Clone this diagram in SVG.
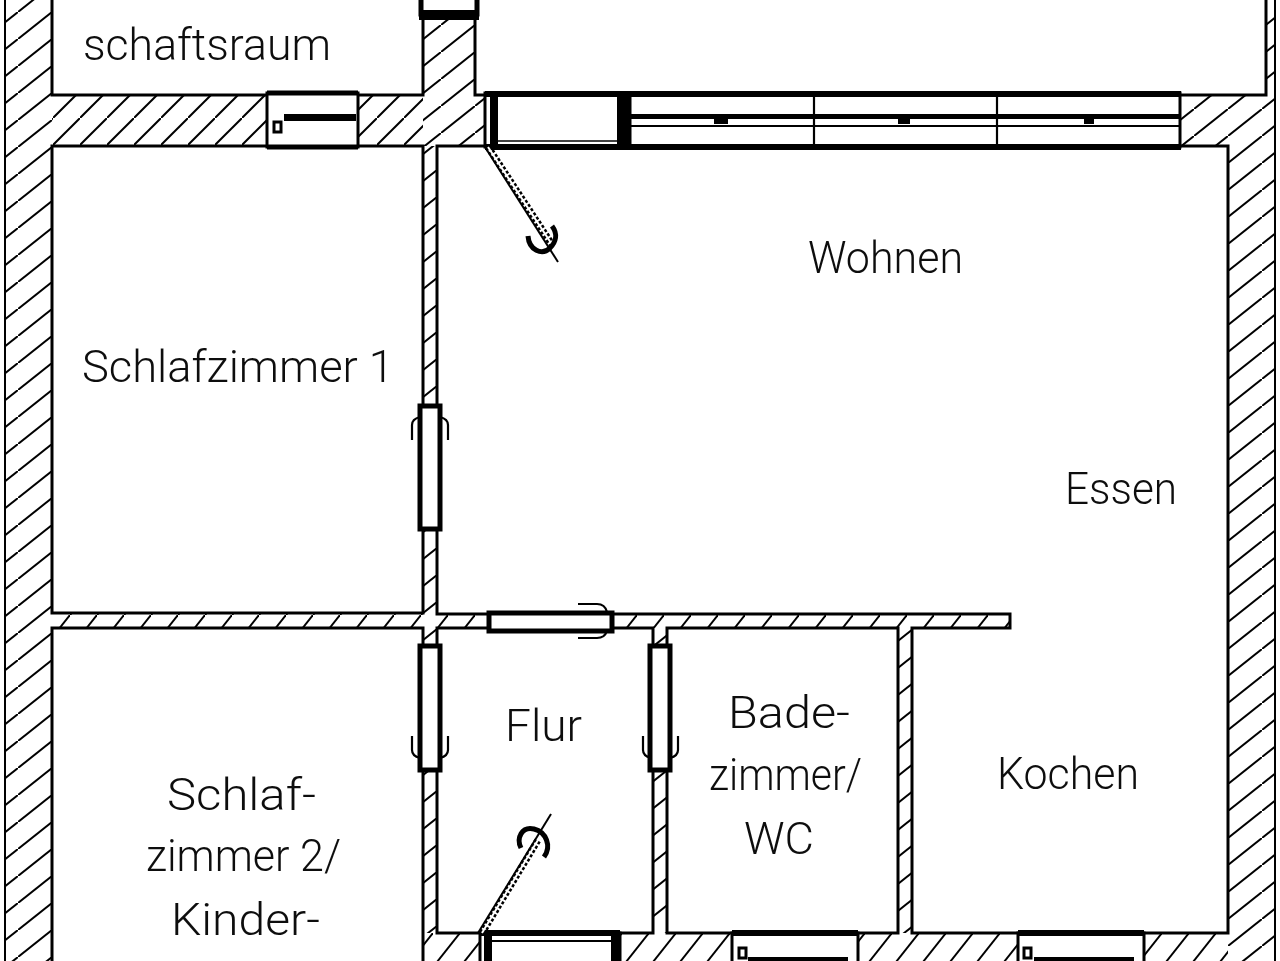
<svg xmlns="http://www.w3.org/2000/svg" width="1280" height="961" viewBox="0 0 1280 961">
<style>
.r{fill:#fff;stroke:#000;stroke-width:3}
.w{fill:#fff;stroke:#000;stroke-width:3}
.d{fill:#fff;stroke:#000;stroke-width:5}
.t{fill:none;stroke:#000;stroke-width:6}
.thin{fill:none;stroke:#000;stroke-width:2.2}
.k{fill:#000}
.hl{fill:none;stroke:#000;stroke-width:2}
.lab{font-family:"Roboto","Liberation Sans",Arial,sans-serif;font-weight:300;font-size:44px;fill:#111}
</style>
<defs>
<pattern id="hL" patternUnits="userSpaceOnUse" width="34" height="27" patternTransform="translate(18 12)"><path d="M-4 30.2L38 -3.2" class="hl"/></pattern>
<pattern id="hR" patternUnits="userSpaceOnUse" width="34" height="27" patternTransform="translate(1228 1)"><path d="M-4 30.2L38 -3.2" class="hl"/></pattern>
<pattern id="hU" patternUnits="userSpaceOnUse" width="34" height="27" patternTransform="translate(441 25)"><path d="M-4 30.2L38 -3.2" class="hl"/></pattern>
<pattern id="hV" patternUnits="userSpaceOnUse" width="34" height="27" patternTransform="translate(403 170)"><path d="M-4 30.2L38 -3.2" class="hl"/></pattern>
<pattern id="hT" patternUnits="userSpaceOnUse" width="27" height="27" patternTransform="translate(377 118)"><path d="M-3 30L30 -3" class="hl"/></pattern>
<pattern id="hM" patternUnits="userSpaceOnUse" width="27" height="34" patternTransform="translate(43 615)"><path d="M-3 37.8L30 -3.8" class="hl"/></pattern>
<pattern id="hB" patternUnits="userSpaceOnUse" width="27" height="34" patternTransform="translate(1135 933)"><path d="M-3 37.8L30 -3.8" class="hl"/></pattern>
<filter id="soft" x="0" y="0" width="100%" height="100%"><feGaussianBlur stdDeviation="0.4"/></filter>
</defs>
<rect width="1280" height="961" fill="#fff"/>
<g filter="url(#soft)">
<g id="walls">
<rect x="4" y="-5" width="48" height="975" fill="url(#hL)"/>
<rect x="1180" y="95" width="96" height="51" fill="url(#hR)"/>
<rect x="1228" y="146" width="48" height="820" fill="url(#hR)"/>
<rect x="1266" y="-5" width="10" height="100" fill="url(#hR)"/>
<rect x="423" y="-5" width="62" height="151" fill="url(#hU)"/>
<rect x="52" y="95" width="371" height="51" fill="url(#hT)"/>
<rect x="423" y="146" width="14" height="787" fill="url(#hV)"/>
<rect x="653" y="628" width="14" height="305" fill="url(#hV)"/>
<rect x="898" y="628" width="14" height="305" fill="url(#hV)"/>
<rect x="52" y="613" width="958" height="15" fill="url(#hM)"/>
<rect x="423" y="933" width="805" height="30" fill="url(#hB)"/>
<path d="M4 -5V970M1276 -5V970" fill="none" stroke="#000" stroke-width="4"/>
</g>
<g id="rooms">
<rect id="room-wirtschaft" class="r" x="52" y="-8" width="371" height="103"/>
<rect id="room-top" class="r" x="475" y="-8" width="791" height="103"/>
<rect id="room-schlaf1" class="r" x="52" y="146" width="371" height="467"/>
<rect id="room-schlaf2" class="r" x="52" y="628" width="371" height="345"/>
<path id="room-wohnen" class="r" d="M437 146H1228V933H912V628H1010V614H437Z"/>
<rect id="room-flur" class="r" x="437" y="628" width="216" height="305"/>
<rect id="room-bad" class="r" x="667" y="628" width="231" height="305"/>
</g>
<g id="windows">
<g id="win-top-left"><rect class="w" x="267" y="93" width="91" height="54"/><path d="M267 93H358M267 147H358" class="t" style="stroke-width:5"/><rect class="k" x="284" y="114" width="72" height="7"/><rect class="thin" x="274" y="122" width="7" height="10" style="stroke-width:3"/></g>
<g id="door-top"><rect class="d" x="421" y="-6" width="56" height="20"/><rect class="k" x="419" y="10" width="60" height="10"/></g>
<g id="door-balcony"><rect class="w" x="485" y="93" width="135" height="54"/><path d="M485 94H630M485 147H630" class="t"/><rect class="k" x="490" y="93" width="8" height="54"/><path d="M497 141H618" stroke="#000" stroke-width="1.5"/><rect class="k" x="617" y="92" width="15" height="57"/></g>
<g id="window-row"><rect class="w" x="630" y="93" width="550" height="54"/><path d="M628 94H1181M628 147H1181" class="t"/><path d="M630 116.500H1180" stroke="#000" stroke-width="5"/><path d="M630 126H1180" class="thin"/><path d="M814 93V147M997 93V147" class="thin"/><rect class="k" x="714" y="116" width="14" height="8"/><rect class="k" x="898" y="116" width="12" height="8"/><rect class="k" x="1084" y="116" width="10" height="8"/></g>
<g id="door-schlaf1"><rect class="d" x="420" y="406" width="20" height="123"/><path d="M412 440V425C412 420 416 418 420 417M448 440V425C448 420 444 418 440 417" class="thin"/></g>
<g id="door-wohnen-flur"><rect class="d" x="489" y="613" width="123" height="18"/><path d="M578 604H597C604 604 606 608 607 612M578 638H597C604 638 606 634 607 631" class="thin"/></g>
<g id="door-schlaf2"><rect class="d" x="420" y="646" width="20" height="124"/><path d="M412 736V750C412 755 416 757 420 758M448 736V750C448 755 444 757 440 758" class="thin"/></g>
<g id="door-bad"><rect class="d" x="650" y="646" width="20" height="124"/><path d="M643 736V750C643 755 647 757 651 758M678 736V750C678 755 674 757 670 758" class="thin"/></g>
<g id="door-bottom"><rect class="w" x="480" y="933" width="140" height="40"/><path d="M480 933H620" class="t"/><rect class="k" x="484" y="933" width="8" height="30"/><rect class="k" x="611" y="931" width="9" height="32"/><path d="M490 941H612" class="thin"/></g>
<g id="win-bad"><rect class="w" x="732" y="933" width="126" height="40"/><path d="M732 933H858" class="t"/><rect class="thin" x="739" y="948" width="7" height="10" style="stroke-width:3"/><rect class="k" x="748" y="957" width="100" height="6"/></g>
<g id="win-kochen"><rect class="w" x="1018" y="933" width="126" height="40"/><path d="M1018 933H1144" class="t"/><rect class="thin" x="1024" y="948" width="7" height="10" style="stroke-width:3"/><rect class="k" x="1034" y="957" width="100" height="6"/></g>
</g>
<g id="handles">
<path d="M485 147L558 262" stroke="#000" stroke-width="2" fill="none"/>
<path d="M488 147L553 246" stroke="#000" stroke-width="7" stroke-dasharray="3 2" fill="none"/>
<path d="M488 147L553 246" stroke="#fff" stroke-width="2" fill="none"/>
<path d="M528 236C529 250 542 256 550 248C556 242 558 234 552 226" fill="none" stroke="#000" stroke-width="5"/>
<path d="M478 933L551 814" stroke="#000" stroke-width="2" fill="none"/>
<path d="M482 933L538 840" stroke="#000" stroke-width="7" stroke-dasharray="3 2" fill="none"/>
<path d="M482 933L538 840" stroke="#fff" stroke-width="2" fill="none"/>
<path d="M521 848C516 838 522 826 534 829C546 832 552 846 544 857" fill="none" stroke="#000" stroke-width="5"/>
</g>
<g id="labels">
<text class="lab" x="83" y="60" textLength="248" lengthAdjust="spacingAndGlyphs">schaftsraum</text>
<text class="lab" x="808" y="273" textLength="155" lengthAdjust="spacingAndGlyphs">Wohnen</text>
<text class="lab" x="82" y="382" textLength="312" lengthAdjust="spacingAndGlyphs">Schlafzimmer 1</text>
<text class="lab" x="1065" y="504" textLength="112" lengthAdjust="spacingAndGlyphs">Essen</text>
<text class="lab" x="505" y="741" textLength="77" lengthAdjust="spacingAndGlyphs">Flur</text>
<text class="lab" x="728" y="728" textLength="122" lengthAdjust="spacingAndGlyphs">Bade-</text>
<text class="lab" x="709" y="790" textLength="153" lengthAdjust="spacingAndGlyphs">zimmer/</text>
<text class="lab" x="744" y="854" textLength="70" lengthAdjust="spacingAndGlyphs">WC</text>
<text class="lab" x="997" y="789" textLength="142" lengthAdjust="spacingAndGlyphs">Kochen</text>
<text class="lab" x="167" y="810" textLength="149" lengthAdjust="spacingAndGlyphs">Schlaf-</text>
<text class="lab" x="146" y="871" textLength="195" lengthAdjust="spacingAndGlyphs">zimmer 2/</text>
<text class="lab" x="171" y="935" textLength="149" lengthAdjust="spacingAndGlyphs">Kinder-</text>
</g>
</g>
</svg>
